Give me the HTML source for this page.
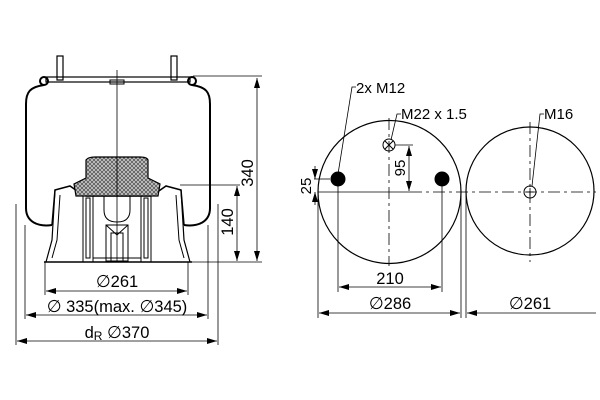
<!DOCTYPE html>
<html><head><style>
html,body{margin:0;padding:0;background:#fff;width:600px;height:400px;overflow:hidden}
svg{display:block}
text{font-family:"Liberation Sans",sans-serif;fill:#000}
.d{font-family:"DejaVu Sans",sans-serif;font-size:17px}
</style></head><body>
<svg width="600" height="400" viewBox="0 0 600 400" xmlns="http://www.w3.org/2000/svg">
<defs>
<marker id="a" viewBox="0 0 10 6" refX="10" refY="3" markerWidth="10" markerHeight="6" orient="auto-start-reverse" markerUnits="userSpaceOnUse"><path d="M0,0L10,3L0,6z" fill="#000"/></marker>
<pattern id="h" width="4" height="4" patternUnits="userSpaceOnUse"><rect width="4" height="4" fill="#555"/><path d="M0,4L4,0M0,0L4,4" stroke="#ccc" stroke-width="0.8"/></pattern>
</defs>
<g fill="none" stroke="#000" stroke-width="1">
<rect x="57" y="56" width="6" height="24" stroke-width="1.2"/>
<rect x="171" y="56" width="6" height="24" stroke-width="1.2"/>
<rect x="46" y="77" width="144" height="5" stroke-width="1.2"/>
<rect x="110" y="80" width="14" height="4"/>
<circle cx="44" cy="81" r="4" stroke-width="2"/>
<circle cx="192" cy="81" r="4" stroke-width="2"/>
<path d="M44,85 C30,87 26,92 26,104 L26,208 C26,222 38,227 52,225" stroke-width="2"/>
<path d="M192,85 C206,87 210,92 210,104 L210,208 C210,222 198,227 184,225" stroke-width="2"/>
<path d="M52,225 L55,190 L70,186 L80,193 L86,196 L150,196 L156,193 L166,186 L181,190 L184,225" stroke-width="1.5"/>
<path d="M55,190 L52,240 L46,262 M181,190 L184,240 L190,262" stroke-width="1.2"/>
<path d="M60,195 L57,240 L52,258 M176,195 L179,240 L184,258"/>
<line x1="44" y1="262" x2="192" y2="262" stroke-width="1.5"/>
<path d="M86,160 Q88,157 95,157 L140,157 Q147,157 148,160 L148,178 L160,184 L158,196 L76,196 L74,184 L86,178 Z" fill="url(#h)" stroke-width="1.2"/>
<rect x="83" y="196" width="10" height="66"/>
<rect x="141" y="196" width="10" height="66"/>
<rect x="86" y="198" width="4" height="60"/>
<rect x="144" y="198" width="4" height="60"/>
<path d="M104,196 L104,210 Q104,222 117,222 Q130,222 130,210 L130,196"/>
<rect x="106" y="225" width="22" height="36"/>
<rect x="111" y="233" width="12" height="28"/>
<path d="M106,225 L117,235 L128,225"/>
<line x1="93" y1="258" x2="141" y2="258"/>
<line x1="117" y1="70" x2="117" y2="262" stroke-width="0.8"/>
<line x1="193" y1="76" x2="262" y2="76" stroke-width="0.8"/>
<line x1="180" y1="185" x2="240" y2="185" stroke-width="0.8"/>
<line x1="190" y1="262" x2="262" y2="262" stroke-width="0.8"/>
<line x1="257" y1="78" x2="257" y2="261" marker-start="url(#a)" marker-end="url(#a)" stroke-width="0.8"/>
<line x1="237" y1="186" x2="237" y2="261" marker-start="url(#a)" marker-end="url(#a)" stroke-width="0.8"/>
<line x1="45" y1="262" x2="45" y2="295" stroke-width="0.8"/>
<line x1="188" y1="262" x2="188" y2="295" stroke-width="0.8"/>
<line x1="25" y1="225" x2="25" y2="319" stroke-width="0.8"/>
<line x1="208" y1="225" x2="208" y2="319" stroke-width="0.8"/>
<line x1="16" y1="204" x2="16" y2="345" stroke-width="0.8"/>
<line x1="218" y1="204" x2="218" y2="345" stroke-width="0.8"/>
<line x1="46" y1="291" x2="187" y2="291" marker-start="url(#a)" marker-end="url(#a)" stroke-width="0.8"/>
<line x1="26" y1="315" x2="207" y2="315" marker-start="url(#a)" marker-end="url(#a)" stroke-width="0.8"/>
<line x1="17" y1="341" x2="217" y2="341" marker-start="url(#a)" marker-end="url(#a)" stroke-width="0.8"/>

<circle cx="389.5" cy="192" r="71.5" stroke-width="1.2"/>
<circle cx="530" cy="191" r="64" stroke-width="1.2"/>
<circle cx="338" cy="179" r="7" fill="#000"/>
<circle cx="442" cy="179" r="7" fill="#000"/>
<circle cx="389" cy="145" r="6"/>
<path d="M385,141L393,149M393,141L385,149"/>
<circle cx="530" cy="192" r="6"/>
<path d="M526,192h8M530,188v8" stroke-width="0.8"/>
<line x1="318" y1="192" x2="410" y2="192" stroke-width="0.8"/>
<line x1="410" y1="192" x2="596" y2="192" stroke-width="0.8" stroke-dasharray="12,4,3,4"/>
<line x1="389" y1="118" x2="389" y2="266" stroke-width="0.8" stroke-dasharray="12,4,3,4"/>
<line x1="530" y1="122" x2="530" y2="262" stroke-width="0.8" stroke-dasharray="12,4,3,4"/>
<line x1="395" y1="145" x2="413" y2="145" stroke-width="0.8"/>
<line x1="409" y1="146" x2="409" y2="191" marker-start="url(#a)" marker-end="url(#a)" stroke-width="0.8"/>
<line x1="314" y1="179" x2="330" y2="179" stroke-width="0.8"/>
<line x1="315" y1="166" x2="315" y2="179" marker-end="url(#a)" stroke-width="0.8"/>
<line x1="315" y1="205" x2="315" y2="192" marker-end="url(#a)" stroke-width="0.8"/>
<line x1="338" y1="186" x2="338" y2="292" stroke-width="0.8"/>
<line x1="442" y1="186" x2="442" y2="292" stroke-width="0.8"/>
<line x1="339" y1="287" x2="441" y2="287" marker-start="url(#a)" marker-end="url(#a)" stroke-width="0.8"/>
<line x1="318" y1="192" x2="318" y2="318" stroke-width="0.8"/>
<line x1="461" y1="192" x2="461" y2="318" stroke-width="0.8"/>
<line x1="466" y1="192" x2="466" y2="318" stroke-width="0.8"/>
<line x1="319" y1="313" x2="460" y2="313" marker-start="url(#a)" marker-end="url(#a)" stroke-width="0.8"/>
<line x1="467" y1="313" x2="596" y2="313" marker-start="url(#a)" stroke-width="0.8"/>
<path d="M338,174 L352,87 L356,87" stroke-width="0.8"/>
<path d="M391,140 L397,114 L401,114" stroke-width="0.8"/>
<path d="M532,186 L540,114 L544,114" stroke-width="0.8"/>
</g>
<g font-size="16.5">
<text x="117" y="287" text-anchor="middle"><tspan class="d">∅</tspan>261</text>
<text x="117" y="312" text-anchor="middle"><tspan class="d">∅</tspan> 335(max. <tspan class="d">∅</tspan>345)</text>
<text x="117" y="338" text-anchor="middle">d<tspan font-size="12" dy="2">R</tspan><tspan dy="-2"> </tspan><tspan class="d">∅</tspan>370</text>
<text transform="translate(253,173) rotate(-90)" text-anchor="middle">340</text>
<text transform="translate(233,222) rotate(-90)" text-anchor="middle">140</text>
<text x="356" y="93" font-size="15">2x M12</text>
<text x="401" y="119" font-size="15">M22 x 1.5</text>
<text x="544" y="119" font-size="15">M16</text>
<text transform="translate(405,168) rotate(-90)" text-anchor="middle" font-size="15">95</text>
<text transform="translate(311,186) rotate(-90)" text-anchor="middle" font-size="15">25</text>
<text x="390" y="284" text-anchor="middle">210</text>
<text x="390" y="309" text-anchor="middle"><tspan class="d">∅</tspan>286</text>
<text x="530" y="309" text-anchor="middle"><tspan class="d">∅</tspan>261</text>
</g>
</svg>
</body></html>
